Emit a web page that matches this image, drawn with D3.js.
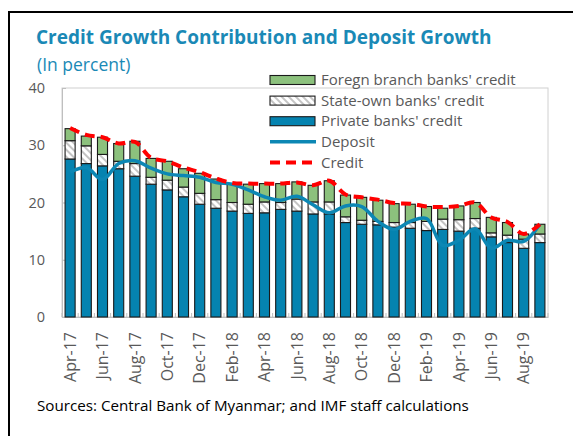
<!DOCTYPE html>
<html>
<head>
<meta charset="utf-8">
<script src="https://cdn.jsdelivr.net/npm/d3@7"></script>
<style>
  body { margin: 0; background: #fff; }
  svg { display: block; font-family: "Open Sans", "Noto Sans", sans-serif; }
  .title { font-weight: bold; fill: #1a89b6; }
  .sub { fill: #1a89b6; }
  .tick-lbl { fill: #595959; }
  .legend text { fill: #595959; }
</style>
</head>
<body>
<div id="chart"></div>
<script>
// months Apr-17 .. Sep-19
var months = ["Apr-17","May-17","Jun-17","Jul-17","Aug-17","Sep-17","Oct-17","Nov-17","Dec-17",
              "Jan-18","Feb-18","Mar-18","Apr-18","May-18","Jun-18","Jul-18","Aug-18","Sep-18",
              "Oct-18","Nov-18","Dec-18","Jan-19","Feb-19","Mar-19","Apr-19","May-19","Jun-19",
              "Jul-19","Aug-19","Sep-19"];

// contributions (percentage points)
var privateBanks = [27.6,26.8,26.4,25.9,24.6,23.2,22.2,21.0,19.7,19.0,18.5,18.1,18.2,18.8,18.5,
                    18.0,18.0,16.5,16.2,16.1,15.7,15.5,15.1,15.3,15.0,15.5,14.0,13.0,12.0,13.0];
var stateBanks   = [3.2,3.1,2.0,1.3,2.2,1.2,1.7,1.7,1.9,1.5,1.5,1.6,1.9,1.2,2.1,
                    2.1,2.1,1.0,0.7,0.6,0.8,1.0,1.6,1.8,2.0,1.7,0.7,1.3,1.6,1.5];
var foreignBanks = [2.1,1.7,3.0,3.1,3.9,3.3,3.3,3.2,3.5,3.6,3.2,3.5,3.2,3.3,3.0,
                    2.9,3.7,3.8,4.0,3.7,3.3,3.2,2.6,1.9,2.4,2.8,2.7,2.2,0.9,1.7];

var deposit = [25.3,26.1,24.0,26.8,27.3,26.0,25.0,24.7,24.4,23.5,23.2,22.2,21.0,20.4,21.1,
               19.6,18.2,19.4,19.3,16.7,15.3,16.7,17.2,12.5,13.4,15.4,12.0,13.4,13.2,16.2];
var credit  = [33.0,31.8,31.4,30.3,30.6,27.8,27.2,26.1,25.3,24.2,23.4,23.3,23.3,23.3,23.5,
               23.0,23.8,21.4,20.9,20.5,19.9,19.8,19.3,19.2,19.4,20.0,17.4,16.6,14.5,16.2];

var yTicks = [0,10,20,30,40];

var W = 573, H = 436;
var margin = {left: 62, right: 25, top: 88, bottom: 119};

var svg = d3.select('#chart').append('svg')
    .attr('width', W).attr('height', H);

// hatch for state-own banks
var defs = svg.append('defs');
var pat = defs.append('pattern')
    .attr('id', 'hatch')
    .attr('patternUnits', 'userSpaceOnUse')
    .attr('width', 5).attr('height', 5)
    .attr('patternTransform', 'rotate(-45)');
pat.append('rect').attr('width', 5).attr('height', 5).attr('fill', '#fff');
pat.append('rect').attr('width', 2).attr('height', 5).attr('fill', '#c4c4c4');

// outer frame
svg.append('rect')
    .attr('x', 9).attr('y', 12)
    .attr('width', 700).attr('height', 600)
    .attr('fill', 'none').attr('stroke', '#000').attr('stroke-width', 2);

svg.append('text').attr('class', 'title')
    .attr('x', 36).attr('y', 44)
    .style('font-size', '19px')
    .text('Credit Growth Contribution and Deposit Growth');
svg.append('text').attr('class', 'sub')
    .attr('x', 37).attr('y', 71)
    .style('font-size', '17.5px')
    .text('(In percent)');

var x = d3.scaleBand()
    .domain(months)
    .range([margin.left, W - margin.right])
    .paddingInner(0.38)
    .paddingOuter(0.19);

var y = d3.scaleLinear()
    .domain([0, 40])
    .range([H - margin.bottom, margin.top]);

// plot frame
svg.append('rect')
    .attr('x', margin.left).attr('y', margin.top)
    .attr('width', W - margin.right - margin.left)
    .attr('height', y(0) - margin.top)
    .attr('fill', 'none').attr('stroke', '#d0d0d0').attr('stroke-width', 1);

// y axis
var yAxis = svg.append('g')
    .attr('transform', 'translate(' + margin.left + ',0)')
    .call(d3.axisLeft(y).tickValues(yTicks).tickSize(-4).tickPadding(17));
yAxis.select('.domain').attr('stroke', '#bfbfbf');
yAxis.selectAll('.tick line').attr('stroke', '#bfbfbf');
yAxis.selectAll('.tick text').attr('class', 'tick-lbl')
    .style('font-size', '14.5px').style('font-family', '"Open Sans", sans-serif');

// x axis
var xAxis = svg.append('g')
    .attr('transform', 'translate(0,' + y(0) + ')')
    .call(d3.axisBottom(x)
        .tickValues(months.filter(function(d, i) { return i % 2 == 0; }))
        .tickSize(0).tickPadding(10));
xAxis.select('.domain').attr('stroke', '#bfbfbf');
xAxis.selectAll('.tick text')
    .attr('class', 'tick-lbl')
    .style('font-size', '16px').style('font-family', '"Open Sans", sans-serif')
    .attr('transform', 'rotate(-90)')
    .attr('text-anchor', 'end')
    .attr('x', -15).attr('y', 0).attr('dy', '0.35em');

// small category ticks
svg.append('g').selectAll('line')
    .data(months.concat(['_end']))
    .enter().append('line')
    .attr('x1', function(d, i) { return margin.left + i * x.step(); })
    .attr('x2', function(d, i) { return margin.left + i * x.step(); })
    .attr('y1', y(0)).attr('y2', y(0) - 4)
    .attr('stroke', '#bfbfbf');

// stacked bars
var rows = months.map(function(m, i) {
    return {month: m, priv: privateBanks[i], state: stateBanks[i], foreign: foreignBanks[i]};
});
var stack = d3.stack().keys(['priv', 'state', 'foreign'])(rows);
var fills = {priv: '#0583b0', state: 'url(#hatch)', foreign: '#8cc17d'};

svg.append('g').selectAll('g')
    .data(stack)
    .enter().append('g')
    .attr('fill', function(d) { return fills[d.key]; })
    .selectAll('rect')
    .data(function(d) { return d; })
    .enter().append('rect')
    .attr('x', function(d) { return x(d.data.month); })
    .attr('width', x.bandwidth())
    .attr('y', function(d) { return y(d[1]); })
    .attr('height', function(d) { return y(d[0]) - y(d[1]); })
    .attr('stroke', '#1a1a1a').attr('stroke-width', 1.1);

// lines
var line = d3.line()
    .x(function(d, i) { return x(months[i]) + x.bandwidth() / 2; })
    .y(function(d) { return y(d); })
    .curve(d3.curveCatmullRom.alpha(0.5));

svg.append('path').datum(deposit)
    .attr('d', line).attr('fill', 'none')
    .attr('stroke', '#0c87b4').attr('stroke-width', 3.5);

svg.append('path').datum(credit)
    .attr('d', line).attr('fill', 'none')
    .attr('stroke', '#ff0000').attr('stroke-width', 4)
    .attr('stroke-dasharray', '10,6');

// legend
var legendItems = ["Foregn branch banks' credit", "State-own banks' credit", "Private banks' credit", "Deposit", "Credit"];
var legendKind = ['foreign', 'state', 'priv', 'dep', 'cred'];
var legend = svg.append('g').attr('class', 'legend').selectAll('g')
    .data(legendItems)
    .enter().append('g')
    .attr('transform', function(d, i) { return 'translate(270,' + (80 + i * 20.6) + ')'; });

legend.each(function(d, i) {
    var g = d3.select(this);
    var k = legendKind[i];
    if (k == 'dep' || k == 'cred') {
        g.append('line').attr('x1', 0).attr('x2', 46).attr('y1', 0).attr('y2', 0)
            .attr('stroke', k == 'dep' ? '#0c87b4' : '#ff0000')
            .attr('stroke-width', k == 'dep' ? 3.5 : 4)
            .attr('stroke-dasharray', k == 'dep' ? null : '10,6');
    } else {
        g.append('rect').attr('x', 0).attr('y', -4.5).attr('width', 45).attr('height', 9)
            .attr('fill', fills[k]).attr('stroke', '#1a1a1a').attr('stroke-width', 1.1);
    }
    g.append('text').attr('x', 51).attr('y', 0).attr('dy', '0.35em')
        .style('font-size', '15px').text(d);
});

svg.append('text')
    .attr('x', 37).attr('y', 411)
    .style('font-size', '15.2px').attr('fill', '#000')
    .text('Sources: Central Bank of Myanmar; and IMF staff calculations');
</script>
</body>
</html>
